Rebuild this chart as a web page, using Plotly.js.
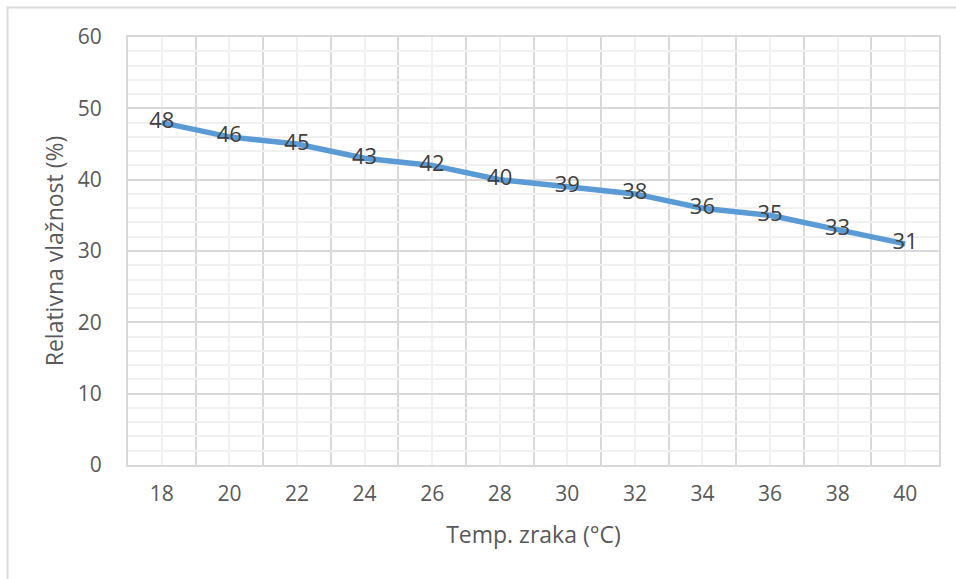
<!DOCTYPE html>
<html>
<head>
<meta charset="utf-8">
<script src="https://cdn.plot.ly/plotly-3.0.1.min.js"></script>
<style>
html,body{margin:0;padding:0;background:#fff;}
#chart{width:956px;height:579px;}
</style>
</head>
<body>
<div id="chart"></div>
<script>
// Data
const temperature = [18, 20, 22, 24, 26, 28, 30, 32, 34, 36, 38, 40];
const humidity = [48, 46, 45, 43, 42, 40, 39, 38, 36, 35, 33, 31];
const xTickLabels = ['18','20','22','24','26','28','30','32','34','36','38','40'];
const yTickValues = [0, 10, 20, 30, 40, 50, 60];
const xTitle = 'Temp. zraka (°C)';
const yTitle = 'Relativna vlažnost (%)';

const xBoundaries = temperature.map(t => t - 1).concat([temperature[temperature.length - 1] + 1]);

const fontFamily = '"Open Sans", "Noto Sans", sans-serif';
const majorGrid = '#d9d9d9';
const minorGrid = '#f0f0f0';

const trace = {
  x: temperature,
  y: humidity,
  text: humidity.map(String),
  type: 'scatter',
  mode: 'lines+text',
  textposition: 'middle center',
  textfont: {family: fontFamily, size: 22, color: '#404040'},
  line: {color: '#5b9bd5', width: 5.5},
  hoverinfo: 'skip',
  cliponaxis: false
};

const layout = {
  width: 956,
  height: 579,
  margin: {l: 128, r: 17, t: 37, b: 114},
  paper_bgcolor: '#ffffff',
  plot_bgcolor: '#ffffff',
  showlegend: false,
  font: {family: fontFamily, color: '#595959', size: 22},
  xaxis: {
    range: [xBoundaries[0], xBoundaries[xBoundaries.length - 1]],
    tickmode: 'array',
    tickvals: temperature,
    ticktext: xTickLabels,
    ticks: '',
    showgrid: true,
    gridcolor: minorGrid,
    gridwidth: 2,
    minor: {tickmode: 'array', tickvals: xBoundaries, showgrid: true, gridcolor: majorGrid, gridwidth: 2, ticks: ''},
    showline: true,
    linecolor: majorGrid,
    linewidth: 2,
    mirror: true,
    zeroline: false,
    ticklabelstandoff: 9,
    tickfont: {family: fontFamily, size: 21, color: '#595959'},
    title: {text: xTitle, font: {family: fontFamily, size: 23, color: '#595959'}, standoff: 21},
    fixedrange: true
  },
  yaxis: {
    range: [0, 60],
    tickmode: 'array',
    tickvals: yTickValues,
    ticks: '',
    showgrid: true,
    gridcolor: majorGrid,
    gridwidth: 2,
    minor: {dtick: 2, showgrid: true, gridcolor: minorGrid, gridwidth: 2, ticks: ''},
    showline: true,
    linecolor: majorGrid,
    linewidth: 2,
    mirror: true,
    zeroline: false,
    ticklabelstandoff: 20,
    tickfont: {family: fontFamily, size: 21, color: '#595959'},
    title: {text: yTitle, font: {family: fontFamily, size: 23, color: '#595959'}, standoff: 8},
    fixedrange: true
  },
  shapes: [{
    type: 'rect', xref: 'paper', yref: 'paper', layer: 'below',
    x0: (7.5 - 128) / 811, x1: 1.5, y0: -1, y1: (465 - 7.5) / 428,
    line: {color: '#d9d9d9', width: 2}, fillcolor: 'rgba(0,0,0,0)'
  }]
};

Plotly.newPlot('chart', [trace], layout, {displayModeBar: false, staticPlot: true});
</script>
</body>
</html>
